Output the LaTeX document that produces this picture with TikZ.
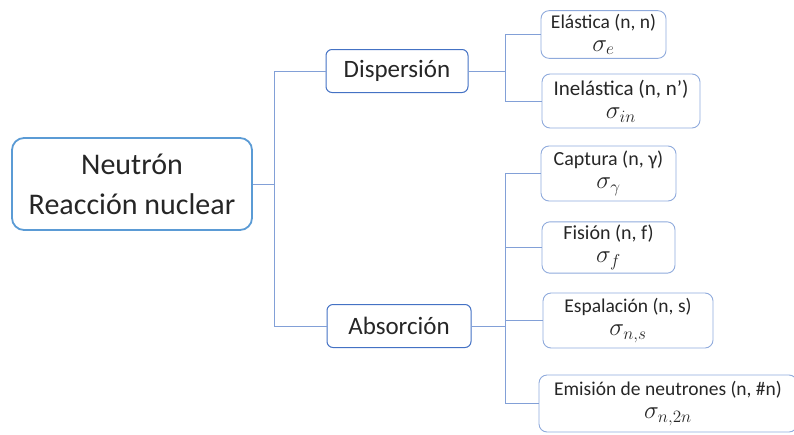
\documentclass[tikz,border=0pt]{standalone}
\usepackage{fontspec}
\setmainfont{Carlito}
\usepackage{amsmath}
\definecolor{rootblue}{RGB}{91,155,213}
\definecolor{midblue}{RGB}{68,114,196}
\definecolor{leafblue}{RGB}{143,170,220}
\definecolor{linkblue}{RGB}{130,160,215}
\newcommand*\xsec[1]{\scalebox{1.2}{$\sigma_{#1}$}}
\tikzset{
  rootbox/.style={draw=rootblue,line width=1.8pt,rounded corners=12pt,minimum width=240pt,minimum height=92pt,align=center,font=\fontsize{30}{40}\selectfont,text=black!85},
  midbox/.style={draw=midblue,line width=1pt,rounded corners=6pt,minimum height=43pt,align=center,font=\fontsize{25}{28}\selectfont,text=black!85},
  leafbox/.style={draw=leafblue,line width=0.9pt,rounded corners=8pt,align=center,text=black!85},
  leaffont/.style={font=\fontsize{#1}{23}\selectfont},
  link/.style={draw=linkblue,line width=0.9pt}
}
\begin{document}
\begin{tikzpicture}[x=1pt,y=-1pt]
    \useasboundingbox (0,0) rectangle (794,434);
    \clip (0,0) rectangle (794,434);
    \node[rootbox] (root) at (132,184) {Neutrón\\Reacción nuclear};
    \node[midbox,minimum width=142pt] (disp) at (397,71) {Dispersión};
    \node[midbox,minimum width=144pt] (abs) at (399,326) {Absorción};

    \node[leafbox,leaffont=19.5,minimum width=125pt,minimum height=47pt] (ela) at (603.5,34.5) {Elástica (n, n)\\\xsec{e}};
    \node[leafbox,leaffont=21,minimum width=158pt,minimum height=54pt] (inel) at (621,101) {Inelástica (n, n’)\\\xsec{in}};
    \node[leafbox,leaffont=20,minimum width=135pt,minimum height=55pt] (capt) at (608.5,173.5) {Captura (n, γ)\\\xsec{\gamma}};
    \node[leafbox,leaffont=20,minimum width=133pt,minimum height=51pt] (fis) at (608.5,247.5) {Fisión (n, f)\\\xsec{f}};
    \node[leafbox,leaffont=19.5,minimum width=170pt,minimum height=55pt] (esp) at (628,320.5) {Espalación (n, s)\\\xsec{n,s}};
    \node[leafbox,leaffont=19.5,minimum width=258pt,minimum height=57pt] (emi) at (668,403.5) {Emisión de neutrones (n, \#n)\\\xsec{n,2n}};

    % tree links
    \coordinate (j1) at (274,184);
    \coordinate (j2) at (505,71);
    \coordinate (j3) at (505,326);
    \draw[link] (root.east) -- (j1);
    \draw[link] (j1) |- (disp.west);
    \draw[link] (j1) |- (abs.west);
    \draw[link] (disp.east) -- (j2);
    \draw[link] (j2) |- (ela.west);
    \draw[link] (j2) |- (inel.west);
    \draw[link] (abs.east) -- (j3);
    \draw[link] (j3) |- (capt.west);
    \draw[link] (j3) |- (fis.west);
    \draw[link] (j3) |- (esp.west);
    \draw[link] (j3) |- (emi.west);
\end{tikzpicture}
\end{document}
